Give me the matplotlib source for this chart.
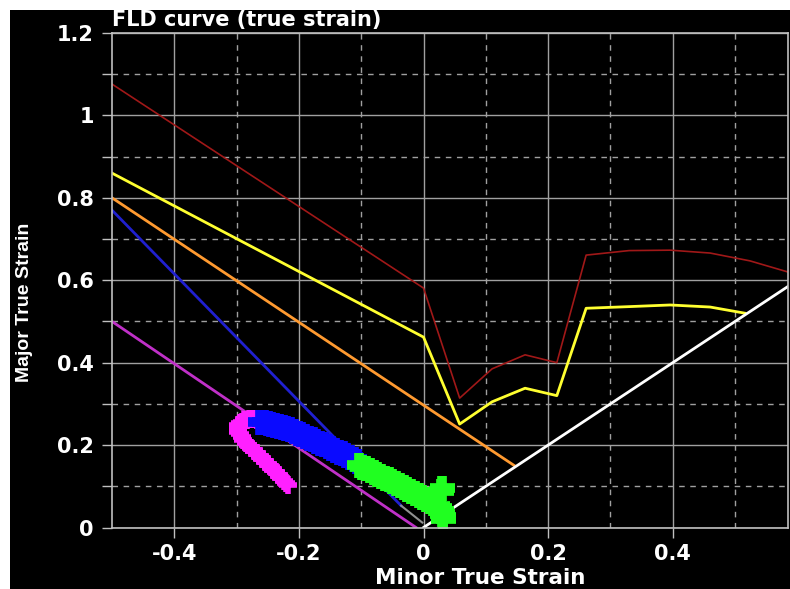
import numpy as np
import matplotlib
matplotlib.use("Agg")
from matplotlib import pyplot as plt
import matplotlib.patches as patches

# FLD limit curves (true strain)
red_x = [-0.5, 0.0, 0.058, 0.11, 0.163, 0.214, 0.261, 0.33, 0.396, 0.46, 0.524, 0.585]
red_y = [1.076, 0.581, 0.314, 0.385, 0.419, 0.40, 0.661, 0.672, 0.673, 0.666, 0.647, 0.62]

yellow_x = [-0.5, 0.0, 0.058, 0.11, 0.163, 0.214, 0.261, 0.33, 0.396, 0.46, 0.516]
yellow_y = [0.86, 0.462, 0.251, 0.305, 0.338, 0.32, 0.532, 0.536, 0.54, 0.535, 0.52]

orange_x = [-0.5, 0.145]
orange_y = [0.80, 0.151]

blue_line_x = [-0.5, -0.036]
blue_line_y = [0.77, 0.053]

gray_x = [-0.036, -0.002]
gray_y = [0.053, 0.012]

magenta_line_x = [-0.5, -0.012]
magenta_line_y = [0.50, 0.0]

white_x = [0.0, 0.585]
white_y = [0.0, 0.585]

# measured strain points
pink_x = [-0.217, -0.220, -0.224, -0.228, -0.232, -0.236, -0.241, -0.245, -0.250, -0.254,
          -0.259, -0.263, -0.268, -0.272, -0.277, -0.281, -0.285, -0.289, -0.292, -0.295,
          -0.297, -0.298, -0.298, -0.297, -0.295, -0.292, -0.288, -0.284, -0.280, -0.276,
          -0.272, -0.268, -0.264]
pink_y = [0.102, 0.108, 0.114, 0.121, 0.127, 0.134, 0.140, 0.147, 0.153, 0.160,
          0.166, 0.173, 0.180, 0.186, 0.193, 0.200, 0.206, 0.213, 0.220, 0.226,
          0.232, 0.238, 0.244, 0.249, 0.253, 0.257, 0.260, 0.262, 0.263, 0.263,
          0.263, 0.262, 0.261]

blue_x = [-0.262, -0.256, -0.250, -0.244, -0.238, -0.232, -0.226, -0.220, -0.214,
          -0.208, -0.202, -0.196, -0.190, -0.184, -0.178, -0.172, -0.166, -0.160,
          -0.154, -0.148, -0.142, -0.136, -0.130, -0.124, -0.118, -0.112, -0.106]
blue_y = [0.256, 0.255, 0.253, 0.251, 0.248, 0.246, 0.244, 0.241, 0.238,
          0.234, 0.230, 0.226, 0.222, 0.218, 0.214, 0.210, 0.206, 0.202,
          0.198, 0.193, 0.189, 0.184, 0.180, 0.176, 0.171, 0.166, 0.162]

green_x = [-0.104, -0.098, -0.092, -0.086, -0.080, -0.074, -0.068, -0.062, -0.056,
           -0.050, -0.044, -0.038, -0.032, -0.026, -0.020, -0.014, -0.008, -0.002,
           0.004, 0.010, 0.016, 0.021, 0.025, 0.028, 0.030, 0.031, 0.031, 0.028, 0.029]
green_y = [0.152, 0.148, 0.144, 0.139, 0.135, 0.131, 0.126, 0.121, 0.117,
           0.112, 0.108, 0.103, 0.099, 0.094, 0.089, 0.084, 0.079, 0.074,
           0.069, 0.064, 0.059, 0.053, 0.047, 0.040, 0.033, 0.026, 0.020, 0.088, 0.095]

x_ticks = [-0.4, -0.2, 0, 0.2, 0.4]
x_tick_labels = ['-0.4', '-0.2', '0', '0.2', '0.4']
y_ticks = [0, 0.2, 0.4, 0.6, 0.8, 1.0, 1.2]
y_tick_labels = ['0', '0.2', '0.4', '0.6', '0.8', '1', '1.2']


def main():
    plt.rcParams['font.family'] = ['DejaVu Sans']
    fig = plt.figure(figsize=(7.9, 5.89), dpi=100, facecolor='white')
    # black panel (white strip on top and left in the original)
    fig.patches.append(patches.Rectangle((10 / 790, 0), 780 / 790, 579 / 589,
                                         transform=fig.transFigure, facecolor='black',
                                         edgecolor='none', zorder=-10))
    ax = fig.add_axes([112 / 790, 61.5 / 589, 676 / 790, 494.5 / 589])
    ax.set_facecolor('black')

    ax.plot(red_x, red_y, color='#a01818', lw=1.2)
    ax.plot(yellow_x, yellow_y, color='#ffff30', lw=2)
    ax.plot(orange_x, orange_y, color='#ff9a30', lw=2)
    ax.plot(blue_line_x, blue_line_y, color='#2020d0', lw=2)
    ax.plot(gray_x, gray_y, color='#909090', lw=1.5)
    ax.plot(magenta_line_x, magenta_line_y, color='#c030c8', lw=2)
    ax.plot(white_x, white_y, color='white', lw=2)

    ax.plot(pink_x, pink_y, '+', color='#ff20ff', ms=13, mew=4, ls='none')
    ax.plot(blue_x, blue_y, '+', color='#0a0aff', ms=18, mew=7, ls='none')
    ax.plot(green_x, green_y, '+', color='#20ff20', ms=18, mew=7, ls='none')

    ax.set_xlim(-0.5, 0.585)
    ax.set_ylim(0, 1.2)
    ax.set_xticks(x_ticks)
    ax.set_xticklabels(x_tick_labels)
    ax.set_yticks(y_ticks)
    ax.set_yticklabels(y_tick_labels)
    ax.set_xticks(np.arange(-0.3, 0.6, 0.2), minor=True)
    ax.set_yticks(np.arange(0.1, 1.2, 0.2), minor=True)

    ax.grid(True, which='major', color='#a0a0a0', lw=1, ls='-')
    ax.grid(True, which='minor', color='#a0a0a0', lw=1, ls=(0, (4, 4)))
    ax.set_axisbelow(True)
    for s in ax.spines.values():
        s.set_color('#c0c0c0')
        s.set_linewidth(1.2)

    ax.tick_params(axis='both', which='both', colors='#c0c0c0', length=7, width=1)
    ax.tick_params(axis='x', which='minor', length=0)
    for lbl in ax.get_xticklabels() + ax.get_yticklabels():
        lbl.set_color('white')
        lbl.set_fontweight('bold')
        lbl.set_fontsize(15)
    ax.tick_params(axis='x', pad=5)
    ax.tick_params(axis='y', pad=6)

    ax.set_xlabel('Minor True Strain', color='white', fontsize=15.5, fontweight='bold')
    ax.xaxis.set_label_coords(0.544, -0.082)
    ax.set_ylabel('Major True Strain', color='white', fontsize=14, fontweight='bold',
                  family=['Liberation Sans Narrow', 'Liberation Sans'])
    ax.yaxis.set_label_coords(-0.117, 0.455)

    ax.text(0.0, 1.006, 'FLD curve (true strain)', transform=ax.transAxes,
            color='white', fontsize=15, fontweight='bold', ha='left', va='bottom')

    fig.savefig('out.png', dpi=100, facecolor=fig.get_facecolor())


if __name__ == "__main__":
    main()
